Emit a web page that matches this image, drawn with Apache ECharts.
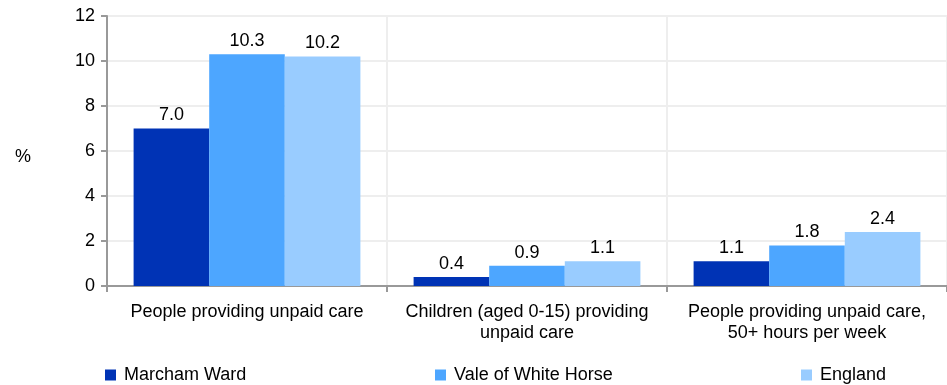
<!DOCTYPE html>
<html><head><meta charset="utf-8">
<script src="https://cdn.jsdelivr.net/npm/echarts@6/dist/echarts.min.js"></script>
<style>html,body{margin:0;padding:0;background:#fff}#c{width:947px;height:385px}</style>
</head><body><div id="c"></div>
<script>
const categories = ["People providing unpaid care", "Children (aged 0-15) providing\nunpaid care", "People providing unpaid care,\n50+ hours per week"];
const seriesNames = ["Marcham Ward", "Vale of White Horse", "England"];
const marcham = [7.0, 0.4, 1.1];
const vale = [10.3, 0.9, 1.8];
const england = [10.2, 1.1, 2.4];
const yTicks = {min: 0, max: 12, interval: 2};

const colors = ["#0033B5", "#4DA6FF", "#99CCFF"];
const font = "Liberation Sans, Arial, sans-serif";
const fs = 18;
const chart = echarts.init(document.getElementById('c'));
const values = [marcham, vale, england];
chart.setOption({
  animation: false,
  textStyle: {fontFamily: font},
  grid: {left: 107, top: 16, width: 846, height: 270},
  legend: seriesNames.map((n, i) => ({
    data: [n], left: [105, 435, 801][i], top: 365, padding: 0, icon: 'rect', itemWidth: 11, itemHeight: 11, itemGap: 8,
    textStyle: {fontSize: fs, color: '#000', fontFamily: font, lineHeight: 20, padding: [0, 0, 0, 3]}
  })),
  graphic: [{type: 'text', left: 15, top: 148, style: {text: '%', fontSize: fs, fill: '#000', fontFamily: font}}],
  xAxis: {
    type: 'category', data: categories,
    axisLine: {lineStyle: {color: '#999', width: 2}},
    axisTick: {show: true, length: 6, lineStyle: {color: '#999', width: 2}},
    splitLine: {show: true, lineStyle: {color: '#eee', width: 2}},
    axisLabel: {interval: 0, fontSize: fs, color: '#000', lineHeight: 21, margin: 16, fontFamily: font}
  },
  yAxis: {
    type: 'value', min: yTicks.min, max: yTicks.max, interval: yTicks.interval,
    axisLine: {show: true, lineStyle: {color: '#999', width: 2}},
    axisTick: {show: true, length: 6, lineStyle: {color: '#999', width: 2}},
    splitLine: {show: true, lineStyle: {color: '#eee', width: 2}},
    axisLabel: {fontSize: fs, color: '#000', margin: 12, fontFamily: font}
  },
  series: seriesNames.map((n, i) => ({
    name: n, type: 'bar', data: values[i], barGap: '0%', barCategoryGap: '19%',
    itemStyle: {color: colors[i]},
    label: {show: true, position: 'top', fontSize: fs, color: '#000', distance: 4, fontFamily: font,
      formatter: p => p.value.toFixed(1)}
  }))
});
</script></body></html>
